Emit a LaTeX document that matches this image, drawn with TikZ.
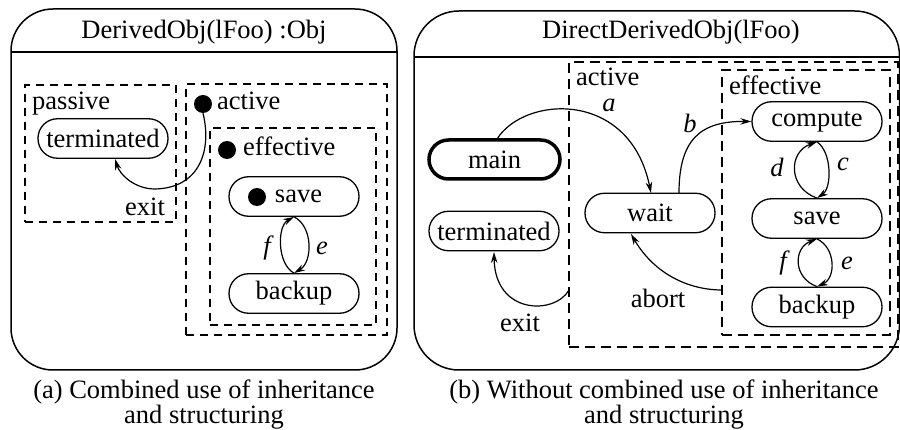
\documentclass[tikz,border=0pt]{standalone}
\usepackage{fontspec}
\setmainfont{Liberation Serif}
\usetikzlibrary{arrows.meta}
\begin{document}
\begin{tikzpicture}[x=1pt,y=-1pt,
  every node/.style={font=\fontsize{26.5}{30}\selectfont},
  txt/.style={inner sep=0pt},
  captxt/.style={inner sep=0pt,align=center,anchor=north,font=\fontsize{26.5}{23}\selectfont},
  stbox/.style={draw,line width=1.3pt,rounded corners=19.5pt,minimum width=130pt,minimum height=39.5pt,inner sep=0pt},
  mainbox/.style={stbox,line width=3.5pt,minimum width=131pt,minimum height=39pt},
  frame/.style={draw,line width=1.5pt,rounded corners=42pt},
  dboxA/.style={draw,line width=1.1pt,dash pattern=on 8pt off 6pt,inner sep=0pt},
  dboxB/.style={draw,line width=2pt,dash pattern=on 10pt off 6pt,inner sep=0pt},
  dot/.style={circle,fill=black,minimum size=18pt,inner sep=0pt},
  conn/.style={line width=1.2pt,-{Stealth[length=11pt,width=6.5pt]}},
  lbl/.style={inner sep=0pt,font=\fontsize{26.5}{30}\selectfont\itshape}
]
\useasboundingbox (0,0) rectangle (900,430);

% ---------------- panel (a) ----------------
\draw[frame] (11,9) rectangle (397,370);
\draw[line width=1.5pt] (11,52) -- (397,52);
\node[txt,anchor=base] (titleA) at (204,39) {DerivedObj(lFoo) :Obj};

\node[dboxA,minimum width=151pt,minimum height=137pt] (passiveA) at (100.5,153.5) {};
\node[txt,anchor=base west] (passiveL) at (32,110) {passive};
\node[stbox] (termA) at (103,138.5) {terminated};
\node[txt,anchor=base west] (exitA) at (125,216) {exit};

\node[dboxA,minimum width=201pt,minimum height=251pt] (activeA) at (286.5,209.5) {};
\node[dot] (adot) at (203,104) {};
\node[txt,anchor=base west] (activeL) at (217,110) {active};

\node[dboxA,minimum width=166pt,minimum height=197pt] (effA) at (293,226.5) {};
\node[dot] (edot) at (227,150) {};
\node[txt,anchor=base west] (effL) at (243,156) {effective};

\node[stbox] (saveA) at (294,196.5) {\hspace*{9pt}save};
\node[dot] (sdot) at (257,197) {};
\node[stbox] (backupA) at (294,293.5) {backup};

\coordinate (termAbot) at (115,159);
\draw[conn] (adot.south) .. controls (212,150) and (200,188) .. (155,189)
  .. controls (135,189) and (120,175) .. (termAbot);
\draw[conn] (saveA.south) .. controls (313,226) and (313,262) .. (backupA.north);
\draw[conn] (backupA.north) .. controls (277,264) and (277,226) .. (saveA.south);
\node[lbl] (fA) at (267,248) {f};
\node[lbl] (eA) at (322,248) {e};

\node[captxt] (capA) at (204,379.5) {(a) Combined use of inheritance\\and structuring};

% ---------------- panel (b) ----------------
\draw[frame,rounded corners=45pt] (414,11) rectangle (899.5,370);
\draw[line width=1.5pt] (414,57) -- (899.5,57);
\node[txt,anchor=base] (titleB) at (671,39) {DirectDerivedObj(lFoo)};

\node[dboxB,minimum width=329pt,minimum height=285pt] (activeB) at (733.5,204.5) {};
\node[txt,anchor=base west] (activeBL) at (576,86) {active};
\node[dboxB,minimum width=168pt,minimum height=265pt] (effB) at (806,202.5) {};
\node[txt,anchor=base west] (effBL) at (729,95) {effective};

\node[mainbox] (mainB) at (494.5,159.5) {main};
\node[stbox] (termB) at (494,231) {terminated};
\node[stbox] (waitB) at (650,213) {wait};
\node[stbox] (computeB) at (817,121.5) {compute};
\node[stbox] (saveB) at (817,218.5) {save};
\node[stbox] (backupB) at (817,307) {backup};

\coordinate (mainTop) at (497,139);
\coordinate (waitTopA) at (651,193);
\coordinate (waitTopB) at (679,193);
\coordinate (waitBot) at (631,234);
\coordinate (abortStart) at (722,290);
\coordinate (exitStart) at (569,290);
\coordinate (termBot) at (494,252);

\draw[conn] (mainTop) .. controls (525,95) and (630,90) .. (waitTopA);
\node[lbl] (aB) at (609,105) {a};
\draw[conn] (waitTopB) .. controls (679,140) and (700,121) .. (computeB.west);
\node[lbl] (bB) at (690,123) {b};
\draw[conn] (abortStart) .. controls (690,290) and (655,275) .. (waitBot);
\node[txt,anchor=base] (abortL) at (658,308) {abort};
\draw[conn] (exitStart) .. controls (555,315) and (495,315) .. (termBot);
\node[txt,anchor=base west] (exitBL) at (500,332) {exit};

\draw[conn] (computeB.south) .. controls (832,152) and (832,188) .. (saveB.north);
\draw[conn] (saveB.north) .. controls (788,188) and (788,152) .. (computeB.south);
\node[lbl] (dB) at (777,167) {d};
\node[lbl] (cB) at (843,164) {c};
\draw[conn] (saveB.south) .. controls (836,248) and (836,278) .. (backupB.north);
\draw[conn] (backupB.north) .. controls (793,278) and (793,248) .. (saveB.south);
\node[lbl] (fB) at (783,263) {f};
\node[lbl] (eB) at (847,263) {e};

\node[captxt] (capB) at (664,379.5) {(b) Without combined use of inheritance\\and structuring};
\end{tikzpicture}
\end{document}
